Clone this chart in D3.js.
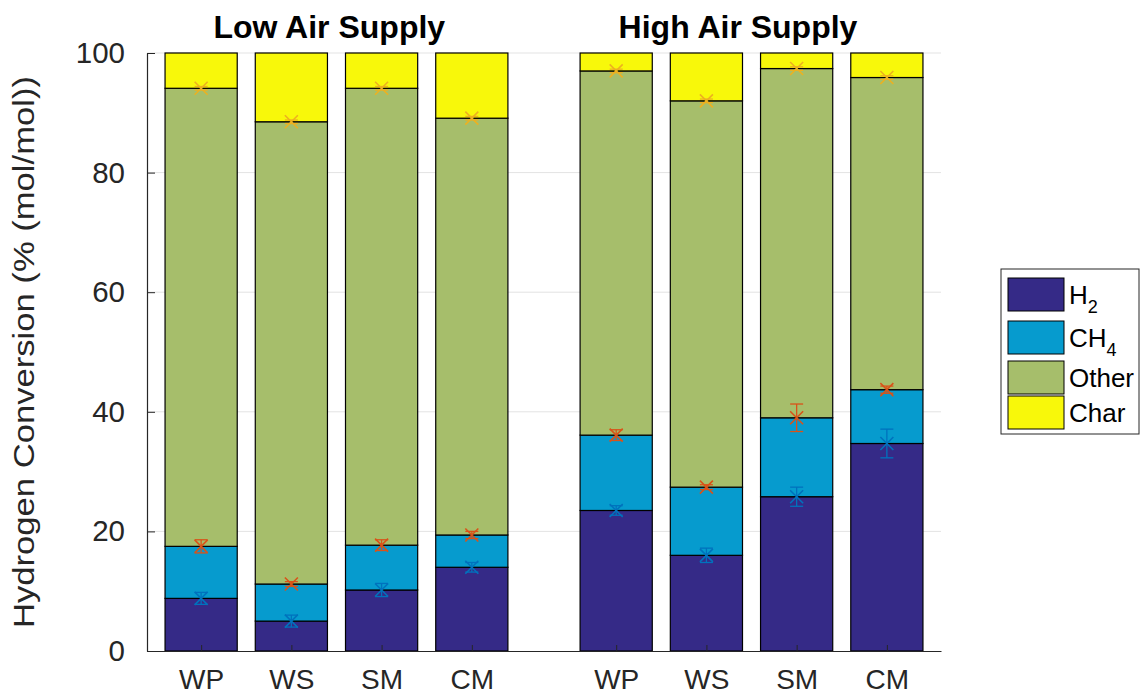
<!DOCTYPE html>
<html>
<head>
<meta charset="utf-8">
<script src="https://cdn.jsdelivr.net/npm/d3@7"></script>
<style>
  html, body { margin: 0; padding: 0; background: #fff; }
  text { font-family: "Liberation Sans", Arial, Helvetica, sans-serif; }
</style>
</head>
<body>
<script>
// chart data
const categories = ["WP", "WS", "SM", "CM", "WP", "WS", "SM", "CM"];
const xPositions = [1, 2, 3, 4, 5.6, 6.6, 7.6, 8.6];
const groupTitles = ["Low Air Supply", "High Air Supply"];
const groupTitleX = [2.42, 6.95];

const h2Values    = [8.8, 5.0, 10.2, 14.0, 23.5, 16.0, 25.8, 34.7];
const ch4Values   = [8.7, 6.2, 7.5, 5.4, 12.6, 11.4, 13.2, 9.0];
const otherValues = [76.6, 77.3, 76.4, 69.7, 60.9, 64.6, 58.4, 52.2];
const charValues  = [5.9, 11.5, 5.9, 10.9, 3.0, 8.0, 2.6, 4.1];

// error bars on the cumulative boundaries
const h2Err    = [1.0, 1.0, 1.1, 0.8, 0.8, 1.2, 1.6, 2.4];
const ch4Err   = [1.1, 0.4, 0.9, 0.6, 0.9, 0.4, 2.3, 0.6];
const otherErr = [0.3, 0.3, 0.3, 0.3, 0.3, 0.3, 0.3, 0.3];

const yTicks = [0, 20, 40, 60, 80, 100];
const seriesKeys = ["H2", "CH4", "Other", "Char"];
const seriesColors = ["#352A87", "#069BCE", "#A6BE6B", "#F8F80A"];
const errColors = ["#0072BD", "#D95319", "#EDB120"];

const W = 1141, H = 696;
const M = { left: 147, right: 941, top: 53, bottom: 651 };
const BAR_W = 0.8;

const svg = d3.select("body").append("svg")
    .attr("width", W)
    .attr("height", H);

svg.append("rect").attr("width", W).attr("height", H).attr("fill", "#fff");

const x = d3.scaleLinear().domain([0.4, 9.2]).range([M.left, M.right]);
const y = d3.scaleLinear().domain([0, 100]).range([M.bottom, M.top]);

// rows for the stack
const table = categories.map((c, i) => ({
    pos: xPositions[i],
    H2: h2Values[i], CH4: ch4Values[i], Other: otherValues[i], Char: charValues[i]
}));
const stacked = d3.stack().keys(seriesKeys)(table);

// grid
svg.append("g")
    .selectAll("line")
    .data(yTicks.filter(t => t > 0))
    .join("line")
    .attr("x1", M.left).attr("x2", M.right)
    .attr("y1", d => y(d)).attr("y2", d => y(d))
    .attr("stroke", "#e3e3e3")
    .attr("stroke-width", 1);

// bars
svg.append("g")
    .selectAll("g")
    .data(stacked)
    .join("g")
    .attr("fill", (d, i) => seriesColors[i])
    .selectAll("rect")
    .data(d => d)
    .join("rect")
    .attr("x", d => x(d.data.pos - BAR_W / 2))
    .attr("width", x(BAR_W) - x(0))
    .attr("y", d => y(d[1]))
    .attr("height", d => y(d[0]) - y(d[1]))
    .attr("stroke", "#000")
    .attr("stroke-width", 1.2);

// error bars with x markers
const errSeries = [
    { top: stacked[0], err: h2Err },
    { top: stacked[1], err: ch4Err },
    { top: stacked[2], err: otherErr }
];
const cap = 6.5, mk = 6.5;
errSeries.forEach((s, k) => {
    const g = svg.append("g")
        .attr("stroke", errColors[k])
        .attr("stroke-width", 1.3)
        .attr("fill", "none");
    s.top.forEach((d, i) => {
        const cx = x(d.data.pos);
        const v = d[1], e = s.err[i];
        g.append("line").attr("x1", cx).attr("x2", cx).attr("y1", y(v - e)).attr("y2", y(v + e));
        g.append("line").attr("x1", cx - cap).attr("x2", cx + cap).attr("y1", y(v - e)).attr("y2", y(v - e));
        g.append("line").attr("x1", cx - cap).attr("x2", cx + cap).attr("y1", y(v + e)).attr("y2", y(v + e));
        g.append("path")
            .attr("stroke-width", 1.6)
            .attr("d", `M${cx - mk},${y(v) - mk}L${cx + mk},${y(v) + mk}M${cx - mk},${y(v) + mk}L${cx + mk},${y(v) - mk}`);
    });
});

// axes
const axisColor = "#262626";
const yAxis = svg.append("g")
    .attr("transform", `translate(${M.left},0)`)
    .call(d3.axisLeft(y).tickValues(yTicks).tickSizeInner(-8).tickSizeOuter(0).tickPadding(22));
yAxis.select(".domain").attr("stroke", axisColor).attr("stroke-width", 1.2);
yAxis.selectAll(".tick line").attr("stroke", axisColor);
yAxis.selectAll(".tick text")
    .attr("fill", axisColor)
    .attr("font-size", 29.5)
    .attr("font-family", "Liberation Sans, Arial, sans-serif");

const xAxis = svg.append("g")
    .attr("transform", `translate(0,${M.bottom})`)
    .call(d3.axisBottom(x).tickValues(xPositions).tickFormat((d, i) => categories[i])
        .tickSizeInner(-6).tickSizeOuter(0).tickPadding(18));
xAxis.select(".domain").attr("stroke", axisColor).attr("stroke-width", 1.2);
xAxis.selectAll(".tick line").attr("stroke", axisColor);
xAxis.selectAll(".tick text")
    .attr("fill", axisColor)
    .attr("font-size", 28)
    .attr("font-family", "Liberation Sans, Arial, sans-serif");

// y label
svg.append("text")
    .attr("transform", `translate(34,${(M.top + M.bottom) / 2}) rotate(-90)`)
    .attr("text-anchor", "middle")
    .attr("fill", axisColor)
    .attr("font-size", 30)
    .attr("textLength", 552)
    .attr("lengthAdjust", "spacingAndGlyphs")
    .text("Hydrogen Conversion (% (mol/mol))");

// group titles
svg.append("g")
    .selectAll("text")
    .data(groupTitles)
    .join("text")
    .attr("x", (d, i) => x(groupTitleX[i]))
    .attr("y", 38)
    .attr("text-anchor", "middle")
    .attr("font-weight", "bold")
    .attr("font-size", 32)
    .attr("fill", "#000")
    .text(d => d);

// legend
const legendRowY = [278, 321, 361, 396];
const legend = svg.append("g");
legend.append("rect")
    .attr("x", 1001).attr("y", 269)
    .attr("width", 138).attr("height", 165)
    .attr("fill", "#fff")
    .attr("stroke", axisColor)
    .attr("stroke-width", 1);
const rows = legend.selectAll("g")
    .data(seriesKeys)
    .join("g")
    .attr("transform", (d, i) => `translate(1008,${legendRowY[i]})`);
rows.append("rect")
    .attr("width", 56).attr("height", 33)
    .attr("fill", (d, i) => seriesColors[i])
    .attr("stroke", "#000")
    .attr("stroke-width", 1);
rows.each(function(d, i) {
    const t = d3.select(this).append("text")
        .attr("x", 61)
        .attr("y", 26)
        .attr("font-size", 26)
        .attr("fill", "#000");
    const m = d.match(/^([A-Za-z]+?)(\d*)$/);
    if (m && m[2]) {
        t.append("tspan").text(m[1]);
        t.append("tspan").attr("font-size", 18).attr("dy", 9).text(m[2]);
    } else {
        t.text(d);
    }
});
</script>
</body>
</html>
